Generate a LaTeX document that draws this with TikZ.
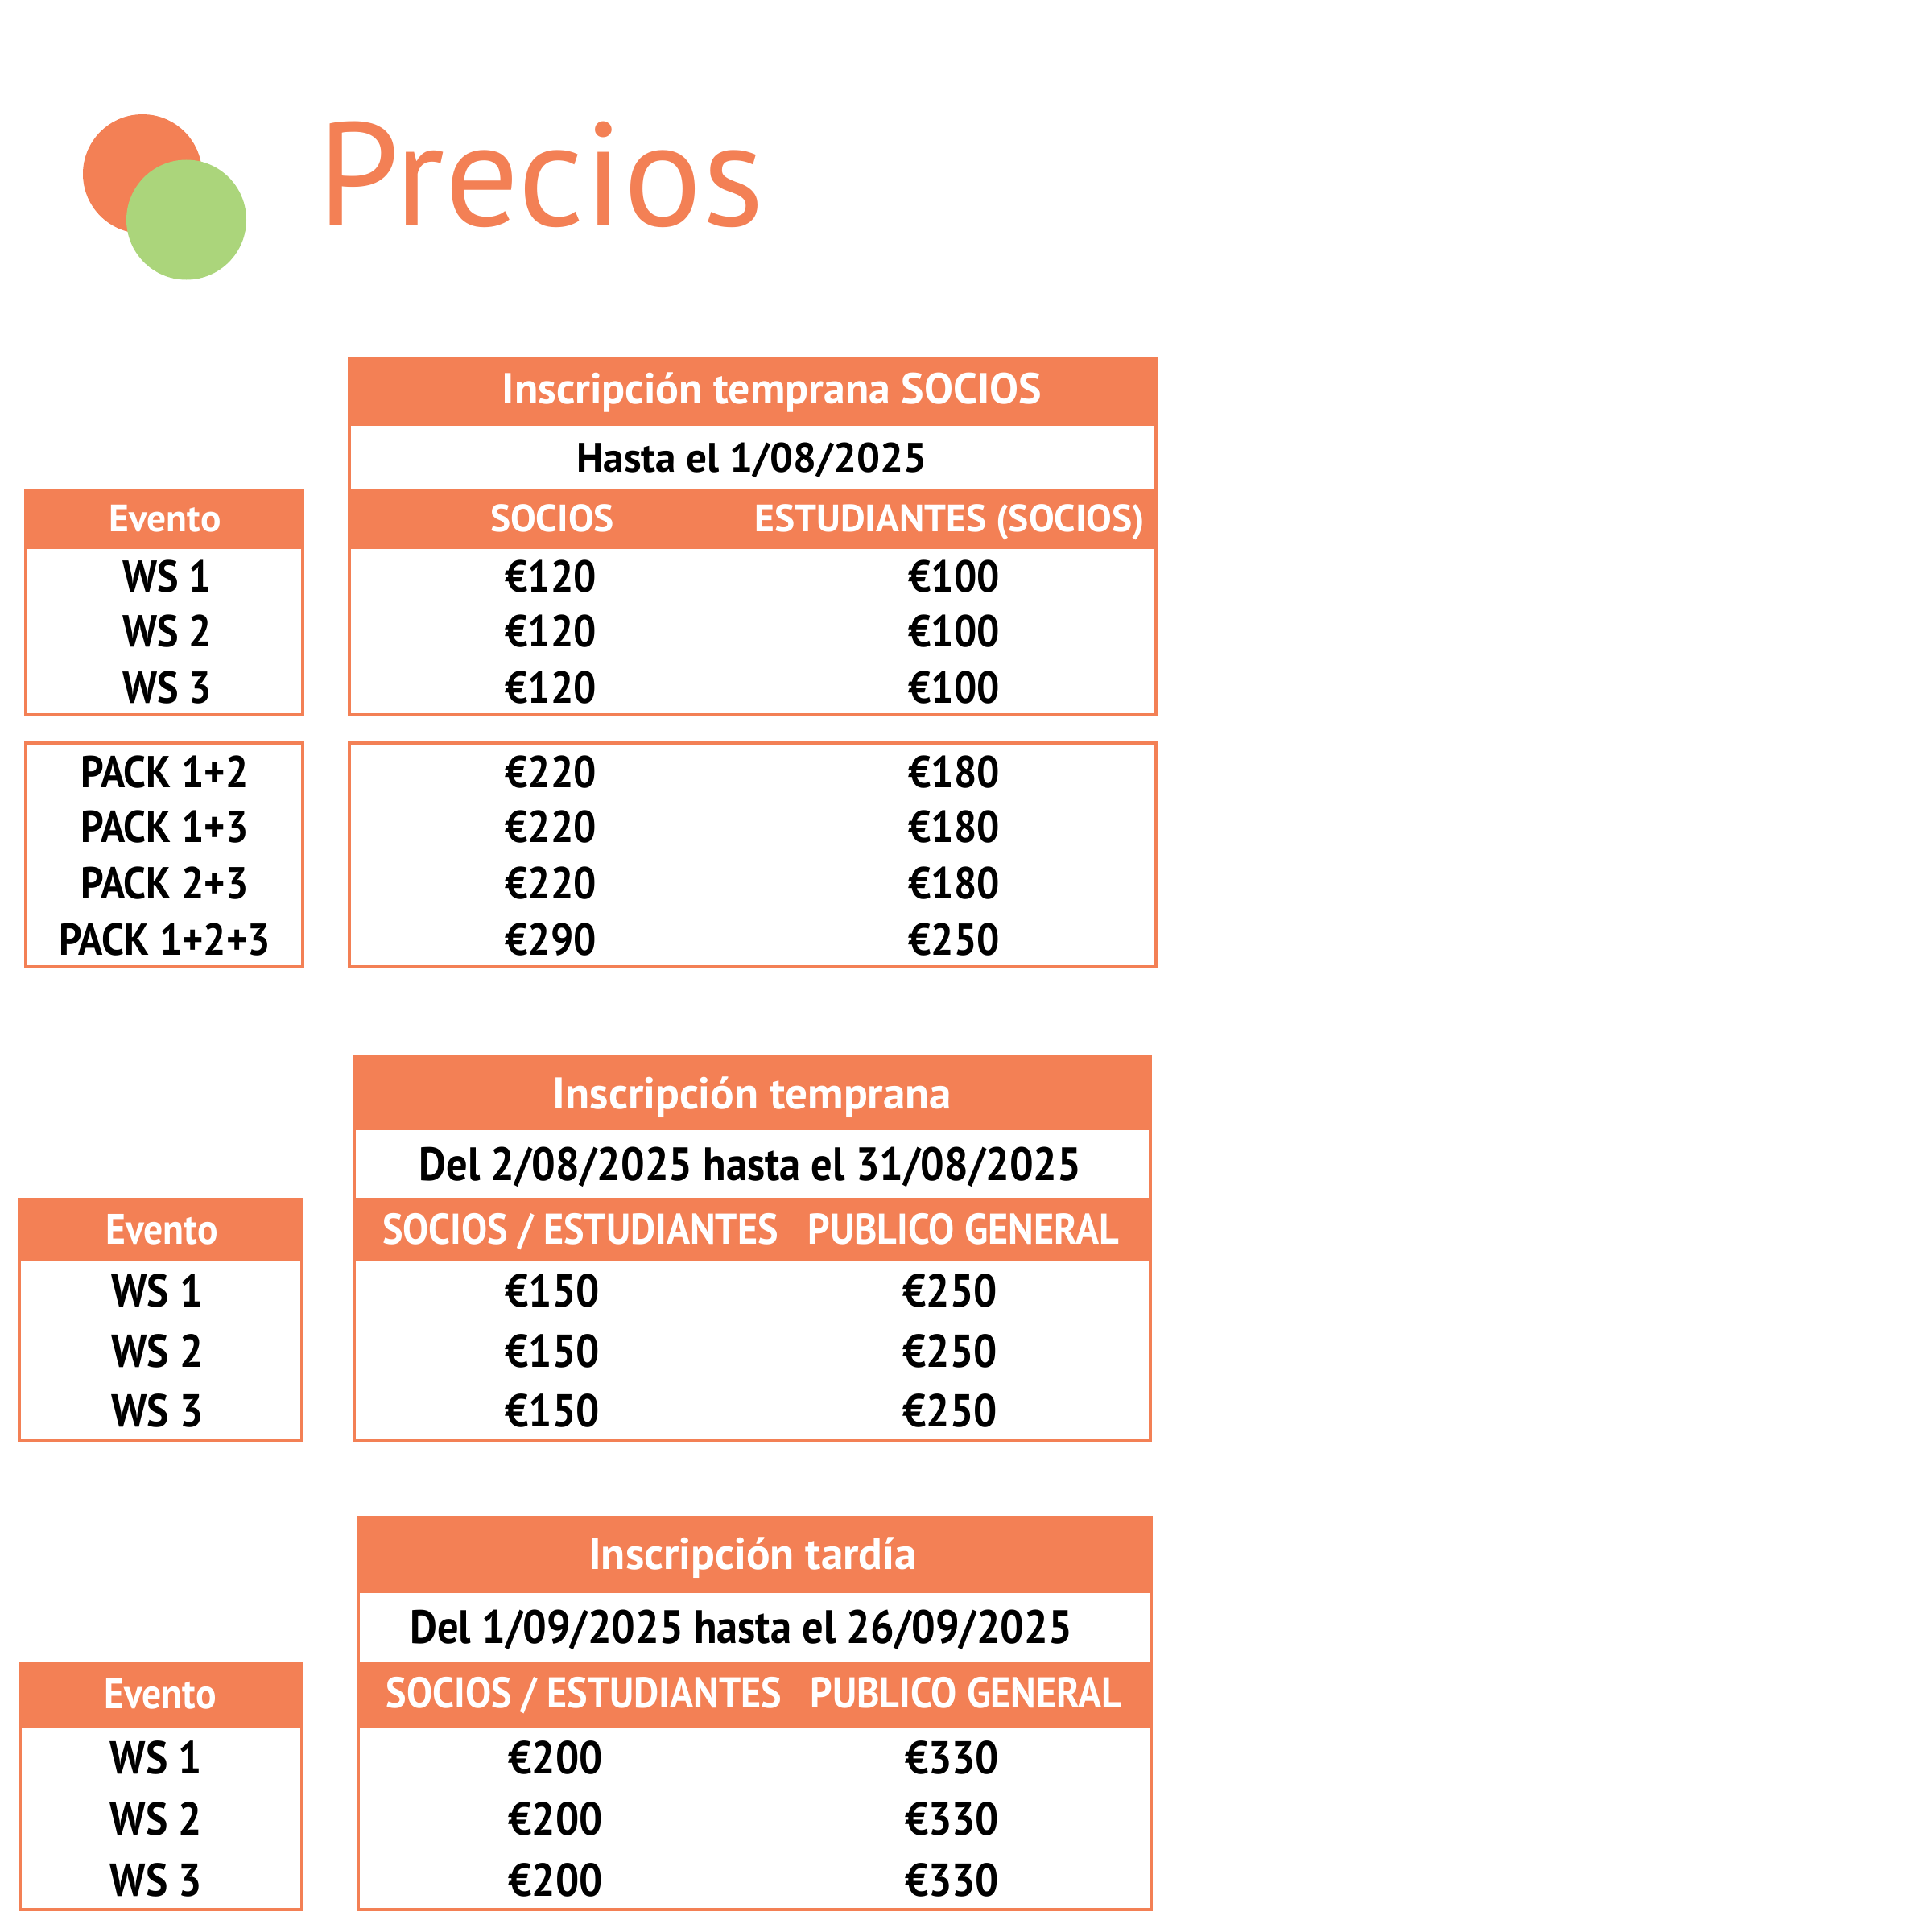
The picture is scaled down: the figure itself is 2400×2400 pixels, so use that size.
\documentclass[tikz,border=0pt]{standalone}
\usepackage{fontspec}
\setmainfont{PT Sans}
\newfontfamily\narrowpt[FakeStretch=0.9]{PT Sans}
\definecolor{po}{RGB}{243,128,85}
\definecolor{pg}{RGB}{171,213,123}
\begin{document}
\begin{tikzpicture}[x=0.01cm,y=-0.01cm,
  bord/.style={draw=po,line width=1.14pt},
  band/.style={fill=po},
  txt/.style={inner sep=0pt,outer sep=0pt,anchor=base},
  wt/.style={txt,text=white},
  bk/.style={txt,text=black},
  fA/.style={font=\bfseries\fontsize{15.3pt}{18pt}\selectfont},
  fAd/.style={font=\bfseries\fontsize{14.55pt}{17pt}\selectfont},
  fAc/.style={font=\bfseries\fontsize{13.5pt}{16pt}\selectfont},
  fAv/.style={font=\narrowpt\bfseries\fontsize{15.8pt}{18pt}\selectfont},
  fB/.style={font=\bfseries\fontsize{15.7pt}{19pt}\selectfont},
  fBd/.style={font=\narrowpt\bfseries\fontsize{16.55pt}{19pt}\selectfont},
  fBc/.style={font=\narrowpt\bfseries\fontsize{15.2pt}{18pt}\selectfont},
  fBe/.style={font=\narrowpt\bfseries\fontsize{15.05pt}{18pt}\selectfont},
  fBv/.style={font=\narrowpt\bfseries\fontsize{16.3pt}{19pt}\selectfont}]
\useasboundingbox[fill=white] (0,0) rectangle (2400,2400);

% logo
\fill[po] (177,216) circle (74);
\fill[pg] (231.5,273) circle (74.5);
\node[txt,anchor=base west,text=po,font=\fontsize{52pt}{58pt}\selectfont] (title) at (394,281) {Precios};

% ---------- Table 1 ----------
\fill[band] (432,442.7) rectangle (1438,529.3);
\fill[band] (432,607.7) rectangle (1438,681.7);
\fill[band] (30,607.7) rectangle (378,681.7);
\draw[bord] (434,444.7) rectangle (1436,888);
\draw[bord] (32,609.7) rectangle (376,888);
\draw[bord] (32,922.7) rectangle (376,1200.7);
\draw[bord] (434,922.7) rectangle (1436,1200.7);

\node[wt,fA] (t1title) at (959,501.7) {Inscripción temprana SOCIOS};
\node[bk,fAd] (t1date) at (934,586.7) {Hasta el 1/08/2025};
\node[wt,fAc] (t1ev) at (205,660) {Evento};
\node[wt,fAc] (t1c1) at (686,660) {SOCIOS};
\node[wt,fAc] (t1c2) at (1180,660) {ESTUDIANTES (SOCIOS)};
\foreach \i/\y in {1/735,2/803.3,3/873.3}{
  \node[bk,fAv] (t1ws\i) at (208,\y) {WS \i};
  \node[bk,fAv] (t1a\i) at (684,\y) {€120};
  \node[bk,fAv] (t1b\i) at (1185,\y) {€100};
}
\foreach \i/\p/\a/\b/\y in {1/1+2/220/180/978.3,2/1+3/220/180/1046.7,3/2+3/220/180/1116.7,4/1+2+3/290/250/1186}{
  \node[bk,fAv] (pk\i) at (204.5,\y) {PACK \p};
  \node[bk,fAv] (pka\i) at (684,\y) {€\a};
  \node[bk,fAv] (pkb\i) at (1185,\y) {€\b};
}

% ---------- Table 2 ----------
\fill[band] (438.3,1311) rectangle (1431,1404);
\fill[band] (438.3,1487.7) rectangle (1431,1567.3);
\fill[band] (22.3,1488.3) rectangle (377.3,1567.3);
\draw[bord] (440.3,1313) rectangle (1429,1788.7);
\draw[bord] (24.3,1490.3) rectangle (375.3,1788.7);

\node[wt,fB] (t2title) at (934.5,1377.5) {Inscripción temprana};
\node[bk,fBd] (t2date) at (932,1466) {Del 2/08/2025 hasta el 31/08/2025};
\node[wt,fBe] (t2ev) at (201,1545) {Evento};
\node[wt,fBc] (t2c1) at (721,1545) {SOCIOS / ESTUDIANTES};
\node[wt,fBc] (t2c2) at (1197,1545) {PUBLICO GENERAL};
\foreach \i/\y in {1/1623.3,2/1698.3,3/1772.7}{
  \node[bk,fBv] (t2ws\i) at (195.5,\y) {WS \i};
  \node[bk,fBv] (t2a\i) at (686,\y) {€150};
  \node[bk,fBv] (t2b\i) at (1180,\y) {€250};
}

% ---------- Table 3 ----------
\fill[band] (443.3,1883.3) rectangle (1431.7,1979);
\fill[band] (443.3,2065) rectangle (1431.7,2146);
\fill[band] (22.7,2065) rectangle (376.7,2146);
\draw[bord] (445.3,1885.3) rectangle (1429.7,2372);
\draw[bord] (24.7,2067) rectangle (374.7,2372);

\node[wt,fB] (t3title) at (935,1949.3) {Inscripción tardía};
\node[bk,fBd] (t3date) at (920.6,2041.7) {Del 1/09/2025 hasta el 26/09/2025};
\node[wt,fBe] (t3ev) at (199,2122.3) {Evento};
\node[wt,fBc] (t3c1) at (725.5,2121.7) {SOCIOS / ESTUDIANTES};
\node[wt,fBc] (t3c2) at (1200,2121.7) {PUBLICO GENERAL};
\foreach \i/\y in {1/2203,2/2279.3,3/2355}{
  \node[bk,fBv] (t3ws\i) at (194,\y) {WS \i};
  \node[bk,fBv] (t3a\i) at (690,\y) {€200};
  \node[bk,fBv] (t3b\i) at (1182.5,\y) {€330};
}
\end{tikzpicture}
\end{document}
